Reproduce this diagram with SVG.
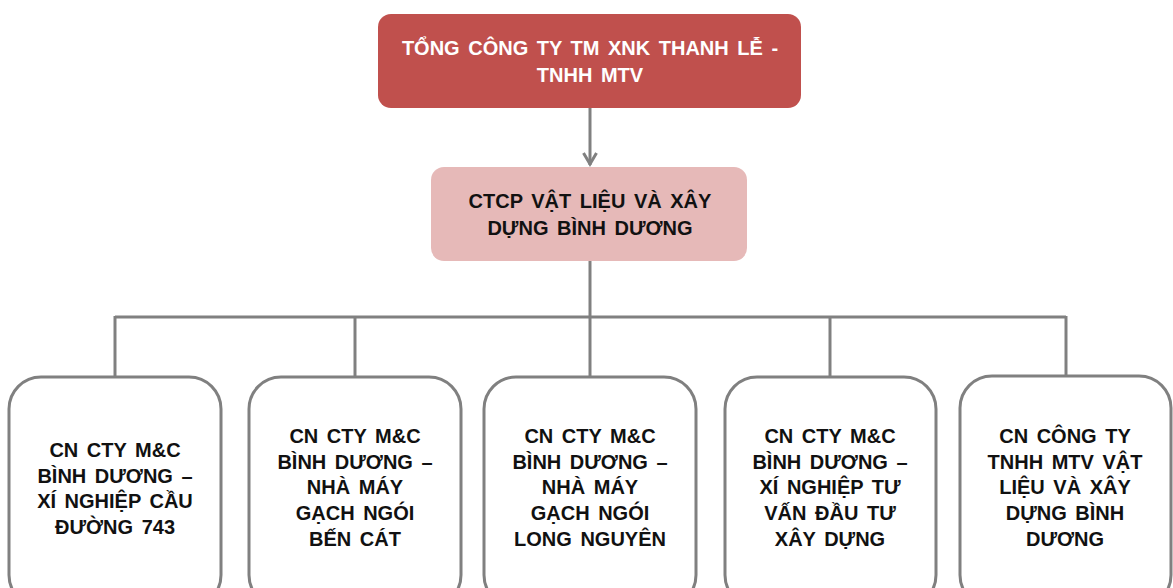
<svg xmlns="http://www.w3.org/2000/svg" width="1173" height="588" viewBox="0 0 1173 588">
<style>
text{font-family:"Liberation Sans",Arial,sans-serif;font-weight:bold;font-size:20px;text-anchor:middle;word-spacing:3px}
.top{fill:#c0504d}
.mid{fill:#e6b9b8}
.leaf{fill:#ffffff;stroke:#808080;stroke-width:3}
.w{fill:#ffffff}
.k{fill:#111111}
.con{stroke:#808080;stroke-width:3;fill:none}
</style>
<defs>
<marker id="arr" viewBox="0 0 16 16" refX="14" refY="8" markerWidth="16" markerHeight="16" markerUnits="userSpaceOnUse" orient="auto">
<path d="M2,1.5 L13,8 L2,14.5" fill="none" stroke="#808080" stroke-width="3"/>
</marker>
</defs>
<g id="connectors">
<line class="con" x1="590" y1="108" x2="590" y2="165" marker-end="url(#arr)"/>
<line class="con" x1="590" y1="261" x2="590" y2="378"/>
<line class="con" x1="115" y1="317" x2="1066" y2="317"/>
<line class="con" x1="115" y1="316" x2="115" y2="378"/>
<line class="con" x1="355" y1="317" x2="355" y2="378"/>
<line class="con" x1="830" y1="317" x2="830" y2="378"/>
<line class="con" x1="1066" y1="316" x2="1066" y2="376"/>
</g>
<g id="n0">
<rect class="top" x="378" y="14" width="423" height="94" rx="13"/>
<text class="w" x="590" y="55">TỔNG CÔNG TY TM XNK THANH LỄ -</text>
<text class="w" x="590" y="82">TNHH MTV</text>
</g>
<g id="n1">
<rect class="mid" x="431" y="167" width="316" height="94" rx="13"/>
<text class="k" x="590" y="208">CTCP VẬT LIỆU VÀ XÂY</text>
<text class="k" x="590" y="235">DỰNG BÌNH DƯƠNG</text>
</g>
<g id="n2">
<rect class="leaf" x="9" y="377" width="212" height="230" rx="32"/>
<text class="k" x="115" y="457">CN CTY M&amp;C</text>
<text class="k" x="115" y="483">BÌNH DƯƠNG –</text>
<text class="k" x="115" y="508">XÍ NGHIỆP CẦU</text>
<text class="k" x="115" y="534">ĐƯỜNG 743</text>
</g>
<g id="n3">
<rect class="leaf" x="249" y="377" width="212" height="230" rx="32"/>
<text class="k" x="355" y="443">CN CTY M&amp;C</text>
<text class="k" x="355" y="469">BÌNH DƯƠNG –</text>
<text class="k" x="355" y="494">NHÀ MÁY</text>
<text class="k" x="355" y="520">GẠCH NGÓI</text>
<text class="k" x="355" y="546">BẾN CÁT</text>
</g>
<g id="n4">
<rect class="leaf" x="484" y="377" width="212" height="230" rx="32"/>
<text class="k" x="590" y="443">CN CTY M&amp;C</text>
<text class="k" x="590" y="469">BÌNH DƯƠNG –</text>
<text class="k" x="590" y="494">NHÀ MÁY</text>
<text class="k" x="590" y="520">GẠCH NGÓI</text>
<text class="k" x="590" y="546">LONG NGUYÊN</text>
</g>
<g id="n5">
<rect class="leaf" x="725" y="377" width="211" height="230" rx="32"/>
<text class="k" x="830" y="443">CN CTY M&amp;C</text>
<text class="k" x="830" y="469">BÌNH DƯƠNG –</text>
<text class="k" x="830" y="494">XÍ NGHIỆP TƯ</text>
<text class="k" x="830" y="520">VẤN ĐẦU TƯ</text>
<text class="k" x="830" y="546">XÂY DỰNG</text>
</g>
<g id="n6">
<rect class="leaf" x="960" y="376" width="211" height="231" rx="32"/>
<text class="k" x="1065" y="443">CN CÔNG TY</text>
<text class="k" x="1065" y="469">TNHH MTV VẬT</text>
<text class="k" x="1065" y="494">LIỆU VÀ XÂY</text>
<text class="k" x="1065" y="520">DỰNG BÌNH</text>
<text class="k" x="1065" y="546">DƯƠNG</text>
</g>
</svg>
